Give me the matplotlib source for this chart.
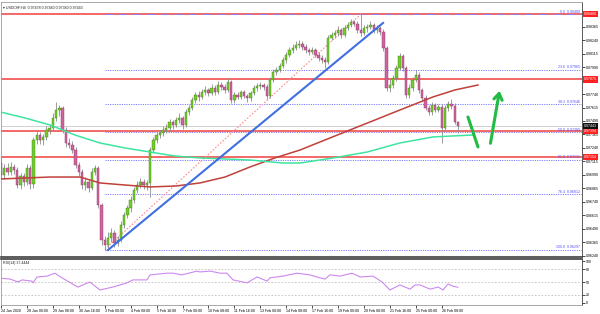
import numpy as np
import matplotlib
matplotlib.use('Agg')
import matplotlib.pyplot as plt
from matplotlib.patches import Rectangle
from matplotlib.transforms import blended_transform_factory

plt.rcParams['font.family'] = ['Liberation Sans', 'DejaVu Sans']

# ---------------- data ----------------
first_open = 0.97100
close = [0.96989, 0.97054, 0.97017, 0.97063, 0.97035, 0.96896, 0.96980, 0.96924, 0.97054, 0.96905,
         0.97314, 0.97360, 0.97314, 0.97342, 0.97407, 0.97425, 0.97518, 0.97592, 0.97611, 0.97407,
         0.97286, 0.97267, 0.97221, 0.97082, 0.97017, 0.96896, 0.96924, 0.96868, 0.97017, 0.97054,
         0.96711, 0.96386, 0.96339, 0.96404, 0.96451, 0.96358, 0.96386, 0.96525, 0.96618, 0.96683,
         0.96757, 0.96850, 0.96896, 0.96924, 0.96896, 0.96915, 0.97221, 0.97314, 0.97360, 0.97379,
         0.97407, 0.97425, 0.97481, 0.97453, 0.97499, 0.97518, 0.97453, 0.97574, 0.97611, 0.97685,
         0.97731, 0.97713, 0.97759, 0.97778, 0.97750, 0.97796, 0.97759, 0.97824, 0.97806, 0.97778,
         0.97852, 0.97685, 0.97731, 0.97713, 0.97759, 0.97722, 0.97704, 0.97750, 0.97796, 0.97815,
         0.97824, 0.97806, 0.97722, 0.97871, 0.97945, 0.97963, 0.98001, 0.98056, 0.98103, 0.98149,
         0.98168, 0.98195, 0.98205, 0.98177, 0.98149, 0.98130, 0.98149, 0.98103, 0.98075, 0.98056,
         0.98038, 0.98260, 0.98288, 0.98307, 0.98335, 0.98288, 0.98353, 0.98381, 0.98409, 0.98390,
         0.98335, 0.98307, 0.98353, 0.98362, 0.98381, 0.98335, 0.98353, 0.98316, 0.98168, 0.97796,
         0.97824, 0.97889, 0.97982, 0.98093, 0.97982, 0.97731, 0.97796, 0.97871, 0.97917, 0.97778,
         0.97704, 0.97611, 0.97574, 0.97639, 0.97592, 0.97620, 0.97425, 0.97611, 0.97648, 0.97629,
         0.97481, 0.97443]
high = [0.97160, 0.97090, 0.97100, 0.97110, 0.97095, 0.97060, 0.97010, 0.97010, 0.97090, 0.97080,
        0.97340, 0.97400, 0.97390, 0.97370, 0.97440, 0.97460, 0.97560, 0.97666, 0.97640, 0.97630,
        0.97430, 0.97330, 0.97300, 0.97250, 0.97110, 0.97040, 0.96970, 0.96950, 0.97050, 0.97080,
        0.97070, 0.96730, 0.96420, 0.96460, 0.96500, 0.96480, 0.96420, 0.96560, 0.96650, 0.96710,
        0.96790, 0.96880, 0.96930, 0.96960, 0.96950, 0.96940, 0.97250, 0.97340, 0.97390, 0.97410,
        0.97440, 0.97460, 0.97510, 0.97500, 0.97530, 0.97560, 0.97540, 0.97600, 0.97640, 0.97710,
        0.97760, 0.97770, 0.97790, 0.97810, 0.97800, 0.97830, 0.97820, 0.97860, 0.97850, 0.97830,
        0.97890, 0.97870, 0.97760, 0.97760, 0.97780, 0.97780, 0.97740, 0.97770, 0.97820, 0.97840,
        0.97850, 0.97840, 0.97830, 0.97900, 0.97970, 0.97990, 0.98030, 0.98080, 0.98130, 0.98180,
        0.98200, 0.98230, 0.98240, 0.98230, 0.98200, 0.98170, 0.98180, 0.98170, 0.98130, 0.98100,
        0.98080, 0.98290, 0.98320, 0.98330, 0.98370, 0.98350, 0.98380, 0.98410, 0.98440, 0.98430,
        0.98420, 0.98480, 0.98380, 0.98390, 0.98420, 0.98400, 0.98380, 0.98370, 0.98340, 0.98190,
        0.97880, 0.97920, 0.98010, 0.98120, 0.98110, 0.98000, 0.97830, 0.97900, 0.97960, 0.97940,
        0.97800, 0.97730, 0.97640, 0.97670, 0.97660, 0.97650, 0.97650, 0.97640, 0.97680, 0.97690,
        0.97660, 0.97490]
low = [0.96960, 0.96950, 0.96990, 0.96990, 0.97000, 0.96870, 0.96860, 0.96890, 0.96900, 0.96860,
       0.96870, 0.97280, 0.97280, 0.97270, 0.97310, 0.97370, 0.97400, 0.97490, 0.97540, 0.97380,
       0.97250, 0.97240, 0.97190, 0.97050, 0.96980, 0.96860, 0.96850, 0.96830, 0.96850, 0.96990,
       0.96680, 0.96340, 0.96297, 0.96310, 0.96370, 0.96320, 0.96330, 0.96370, 0.96500, 0.96590,
       0.96650, 0.96730, 0.96820, 0.96870, 0.96860, 0.96850, 0.96785, 0.97190, 0.97290, 0.97330,
       0.97350, 0.97380, 0.97400, 0.97420, 0.97430, 0.97470, 0.97420, 0.97430, 0.97550, 0.97590,
       0.97660, 0.97680, 0.97690, 0.97730, 0.97720, 0.97730, 0.97730, 0.97740, 0.97780, 0.97750,
       0.97760, 0.97660, 0.97660, 0.97690, 0.97690, 0.97700, 0.97670, 0.97680, 0.97730, 0.97770,
       0.97790, 0.97780, 0.97690, 0.97700, 0.97850, 0.97920, 0.97940, 0.97980, 0.98030, 0.98080,
       0.98120, 0.98150, 0.98170, 0.98150, 0.98120, 0.98100, 0.98110, 0.98080, 0.98050, 0.98030,
       0.97982, 0.98020, 0.98240, 0.98260, 0.98280, 0.98260, 0.98270, 0.98330, 0.98360, 0.98370,
       0.98310, 0.98280, 0.98290, 0.98320, 0.98340, 0.98310, 0.98310, 0.98290, 0.98140, 0.97770,
       0.97760, 0.97800, 0.97860, 0.97960, 0.97950, 0.97700, 0.97700, 0.97770, 0.97850, 0.97750,
       0.97680, 0.97590, 0.97550, 0.97550, 0.97570, 0.97570, 0.97286, 0.97400, 0.97580, 0.97600,
       0.97460, 0.97380]
open_ = [first_open] + close[:-1]

red_ma_x = [-0.3, 15.1, 24.4, 30.5, 38.2, 46, 54, 61.4, 69.1, 76.8, 84.5, 92.3, 100, 107.7,
            115.4, 123.1, 133.3, 140.1, 147.2]
red_ma_y = [0.96952, 0.96970, 0.96970, 0.96915, 0.96896, 0.96878, 0.96887, 0.96915, 0.96970,
            0.97063, 0.97147, 0.97221, 0.97314, 0.97407, 0.97499, 0.97592, 0.97713, 0.97778, 0.97824]
green_ma_x = [-0.3, 7.4, 15.1, 22.8, 30.5, 38.2, 46, 53.7, 61.4, 76.8, 87, 92.3, 102.5, 113,
              123.1, 133.3, 145.6]
green_ma_y = [0.97574, 0.97518, 0.97453, 0.97360, 0.97286, 0.97240, 0.97202, 0.97165, 0.97147,
              0.97128, 0.97100, 0.97100, 0.97147, 0.97202, 0.97286, 0.97342, 0.97360]

rsi_x = [-0.3, 2.8, 5.2, 6.5, 9.5, 9.9, 11.1, 14.2, 16.6, 18.8, 23.7, 27.4, 30.5, 34.5, 38.9,
         40.7, 45, 46, 51.2, 53.1, 55.8, 60.5, 61.4, 64.5, 67.6, 69.7, 71.6, 75.9, 79, 82.1, 83,
         87, 91.3, 95.3, 98.4, 100, 101.5, 104.6, 108.3, 110.8, 114.8, 117.6, 120, 123.1, 126.2,
         127.8, 129.3, 132.4, 134.9, 136.4, 137.9, 139.5, 141]
rsi_v = [59, 57, 50, 55, 52, 48, 62, 64, 71, 60, 38, 50, 31, 38, 48, 55, 55, 67, 71, 71, 67, 76,
         74, 76, 71, 71, 55, 48, 62, 52, 60, 64, 71, 67, 60, 57, 67, 64, 71, 62, 64, 50, 31, 43,
         33, 43, 43, 33, 38, 31, 45, 40, 37.44]

fib_hi, fib_lo = 0.98480, 0.96297
fib_hi_i, fib_lo_i = 111, 32
fib_ratios = [0.0, 23.6, 38.2, 50.0, 61.8, 76.4, 100.0]
hlines = [0.98480, 0.97875, 0.97394, 0.97154]
current_price = 0.97443
trend_x = [33, 117.9]
trend_y = [0.96293, 0.98400]

yticks = [0.98365, 0.98240, 0.98115, 0.97990, 0.97740, 0.97615, 0.97490, 0.97365,
          0.97240, 0.97115, 0.96990, 0.96865, 0.96740, 0.96615, 0.96490, 0.96365, 0.96240]
xtick_pos = [0, 8, 16, 24, 32, 40, 48, 56, 64, 72, 80, 88, 96, 104, 112, 120, 128, 136]
xtick_lab = ['24 Jan 2020', '28 Jan 00:00', '29 Jan 08:00', '30 Jan 16:00', '3 Feb 00:00',
             '4 Feb 08:00', '5 Feb 16:00', '7 Feb 00:00', '10 Feb 08:00', '11 Feb 16:00',
             '13 Feb 00:00', '14 Feb 08:00', '17 Feb 16:00', '19 Feb 00:00', '20 Feb 08:00',
             '21 Feb 16:00', '25 Feb 00:00', '26 Feb 08:00']

# ---------------- figure ----------------
W, H = 600, 314
fig = plt.figure(figsize=(6, 3.14), dpi=100)
fig.patch.set_facecolor('white')

def frac(x0, y0, x1, y1):
    return [x0 / W, 1 - y1 / H, (x1 - x0) / W, (y1 - y0) / H]

ax = fig.add_axes(frac(1, 2, 582, 257))
axr = fig.add_axes(frac(1, 259, 582, 305))
XL = (-0.02, 179.3)
ax.set_xlim(*XL)
axr.set_xlim(*XL)
ax.set_ylim(0.96228, 0.98594)
axr.set_ylim(-4.8, 104.8)

FS = 2.6
for a in (ax, axr):
    for s in a.spines.values():
        s.set_color('#9a9a9a')
        s.set_linewidth(0.6)
ax.spines['bottom'].set_color('#404040')
ax.spines['bottom'].set_linewidth(1.2)
axr.spines['top'].set_color('#404040')
axr.spines['top'].set_linewidth(1.2)
ax.spines['right'].set_color('#404040')
axr.spines['right'].set_color('#404040')

# candles
bull, bear = '#74cc2c', '#d0649e'
bull_e, bear_e = '#3f7f16', '#8a3566'
for i, (o, h, l, c) in enumerate(zip(open_, high, low, close)):
    ax.vlines(i, l, h, color='#8c8c8c', lw=0.6, zorder=3)
    col, ec = (bull, bull_e) if c >= o else (bear, bear_e)
    b = min(o, c)
    hgt = max(abs(c - o), 0.00003)
    ax.add_patch(Rectangle((i - 0.36, b), 0.72, hgt, facecolor=col, edgecolor=ec,
                           lw=0.3, zorder=4))

# moving averages
ax.plot(red_ma_x, red_ma_y, color='#c0403a', lw=1.1, zorder=5)
ax.plot(green_ma_x, green_ma_y, color='#3de6a0', lw=1.1, zorder=5)

# horizontal lines
for v in hlines:
    ax.axhline(v, color='#f04040', lw=1.1, zorder=2)
ax.axhline(current_price, color='#c8c8c8', lw=0.6, zorder=1)

# fibonacci
for r in fib_ratios:
    lev = fib_hi - r / 100 * (fib_hi - fib_lo)
    ax.plot([fib_lo_i, XL[1]], [lev, lev], color='#7b7bff', lw=0.7, ls=(0, (1.2, 1.2)), zorder=2)
    ax.text(XL[1] - 0.6, lev + 0.00003, f'{r:.1f}  {lev:.5f}', fontsize=FS,
            color='#5050ff', ha='right', va='bottom', zorder=6)
ax.plot([fib_lo_i, fib_hi_i], [fib_lo, fib_hi], color='#ff8a8a', lw=0.8,
        ls=(0, (1.5, 1.5)), zorder=2)

# trend line
ax.plot(trend_x, trend_y, color='#3f6fe0', lw=1.5, zorder=6)

# green arrows
ax.plot([144.1, 147.2], [0.97527, 0.97249], color='#22bb44', lw=2.2, zorder=7,
        solid_capstyle='round')
ax.annotate('', xy=(154, 0.97796), xytext=(150.9, 0.97258),
            arrowprops=dict(arrowstyle='->,head_length=0.45,head_width=0.3',
                            color='#22bb44', lw=2.2), zorder=7)

# y ticks
ax.yaxis.tick_right()
ax.set_yticks(yticks)
ax.set_yticklabels([f'{v:.5f}' for v in yticks])
ax.tick_params(axis='y', labelsize=FS, length=2, pad=1, width=0.5)
ax.set_xticks([])

tr = blended_transform_factory(ax.transAxes, ax.transData)
for v in hlines:
    ax.text(1.004, v, f'{v:.5f}', transform=tr, fontsize=FS, color='white', ha='left',
            va='center', zorder=10, clip_on=False,
            bbox=dict(boxstyle='square,pad=0.3', fc='#ff2020', ec='none'))
ax.text(1.004, current_price, f'{current_price:.5f}', transform=tr, fontsize=FS,
        color='white', ha='left', va='center', zorder=10, clip_on=False,
        bbox=dict(boxstyle='square,pad=0.3', fc='#101010', ec='none'))

ax.text(0.004, 0.985, '▾ USDCHF,H4  0.97478 0.97480 0.97380 0.97443', transform=ax.transAxes,
        fontsize=FS, ha='left', va='top', color='#222222')

# RSI
for lv in (80, 50, 20):
    axr.axhline(lv, color='#c0c0c0', lw=0.6, ls=(0, (2, 2)))
axr.plot(rsi_x, rsi_v, color='#cc88ee', lw=0.8)
axr.yaxis.tick_right()
axr.set_yticks([100, 80, 50, 20, 0])
axr.tick_params(axis='y', labelsize=FS, length=2, pad=1, width=0.5)
axr.set_xticks(xtick_pos)
axr.set_xticklabels(xtick_lab, ha='left')
axr.tick_params(axis='x', labelsize=FS, length=2, pad=0.8, width=0.5)
axr.text(0.004, 0.95, 'RSI(14) 37.4444', transform=axr.transAxes, fontsize=FS,
         ha='left', va='top', color='#222222')

fig.savefig('out.png', dpi=100)
